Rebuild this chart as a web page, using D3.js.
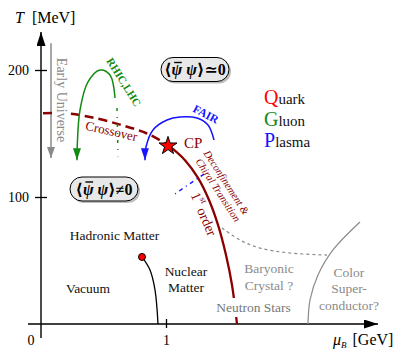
<!DOCTYPE html>
<html>
<head>
<meta charset="utf-8">
<script src="https://cdn.jsdelivr.net/npm/d3@7"></script>
<style>
  body { margin: 0; background: #fff; }
  svg text { font-family: "Liberation Serif", "Times New Roman", "DejaVu Serif", serif; }
</style>
</head>
<body>
<script>
// phase diagram data, (muB in GeV, T in MeV)
var yTicks = [100, 200];
var xTicks = [1];
var crossover = [[0.016, 166], [0.192, 166], [0.392, 163], [0.632, 157], [0.848, 150], [1.016, 141]];
var firstOrder = [[1.016, 141], [1.152, 129], [1.256, 115], [1.344, 97.6], [1.416, 78], [1.48, 54.3], [1.528, 30.7], [1.568, 0]];
var criticalPoint = [1.016, 141];
var nuclear = [[0.808, 52.8], [0.872, 42.5], [0.912, 26.8], [0.936, 0]];
var colorSC = [[2.136, 0], [2.152, 18.9], [2.216, 38.6], [2.336, 58.3], [2.552, 80.3]];
var crystalLine = [[1.448, 75.6], [1.592, 66.1], [1.752, 59.8], [1.992, 55.9], [2.288, 54.3]];
var rhicArc = [[0.288, 129], [0.29, 140], [0.312, 168.5], [0.376, 190.6], [0.472, 200], [0.552, 196], [0.592, 178]];
var rhicReturn = [[0.608, 170], [0.616, 132]];
var fairArc = [[0.832, 129], [0.84, 139.4], [0.896, 152.8], [1.008, 160.6], [1.112, 163], [1.248, 162.2], [1.336, 156.7], [1.384, 144.9]];
var fairReturn = [[1.304, 118.1], [1.048, 100.8]];
var earlyUniverse = [[0.08, 221], [0.08, 130.7]];

var svgWidth = 403;
var svgHeight = 350;
var darkRed = "#8b0000";
var green = "#138a13";
var blue = "#1414ff";
var gray = "#8a8a8a";

var svg = d3.select("body").append("svg")
  .attr("width", svgWidth)
  .attr("height", svgHeight);

var x = d3.scaleLinear().domain([0, 1]).range([41, 166]);
var y = d3.scaleLinear().domain([0, 100]).range([324, 197]);

var line = d3.line()
  .x(d => x(d[0]))
  .y(d => y(d[1]))
  .curve(d3.curveCatmullRom);

// arrow markers
var defs = svg.append("defs");
function marker(id, color, len, wid) {
  defs.append("marker")
    .attr("id", id)
    .attr("markerUnits", "userSpaceOnUse")
    .attr("markerWidth", len)
    .attr("markerHeight", wid)
    .attr("refX", len)
    .attr("refY", wid / 2)
    .attr("orient", "auto-start-reverse")
    .append("path")
    .attr("d", `M0,0 L${len},${wid / 2} L0,${wid} z`)
    .attr("fill", color);
}
marker("arrGreen", green, 12, 8);
marker("arrBlue", blue, 12, 8);
marker("arrGray", gray, 11, 8);
marker("arrBlack", "#000", 14, 9);

// axes
svg.append("line")
  .attr("x1", x(0)).attr("x2", x(0))
  .attr("y1", y(-11)).attr("y2", y(230))
  .attr("stroke", "#000").attr("stroke-width", 1.4)
  .attr("marker-end", "url(#arrBlack)");
svg.append("line")
  .attr("x1", x(-0.104)).attr("x2", x(2.696))
  .attr("y1", y(0)).attr("y2", y(0))
  .attr("stroke", "#000").attr("stroke-width", 1.4)
  .attr("marker-end", "url(#arrBlack)");

var yAxis = svg.append("g")
  .attr("transform", `translate(${x(0)},0)`)
  .call(d3.axisLeft(y).tickValues(yTicks).tickSize(6).tickPadding(6));
yAxis.select(".domain").remove();
yAxis.selectAll(".tick line").attr("x1", -6).attr("x2", 6).attr("stroke-width", 1.3);
yAxis.selectAll(".tick text").attr("font-size", 14).attr("fill", "#000")
  .style("font-family", "'Liberation Serif', serif");

var xAxis = svg.append("g")
  .attr("transform", `translate(0,${y(0)})`)
  .call(d3.axisBottom(x).tickValues(xTicks).tickFormat(d3.format("d")).tickSize(4).tickPadding(7));
xAxis.select(".domain").remove();
xAxis.selectAll(".tick line").attr("y1", -5).attr("stroke-width", 1.3);
xAxis.selectAll(".tick text").attr("font-size", 14).attr("fill", "#000")
  .style("font-family", "'Liberation Serif', serif");

svg.append("text").attr("x", 31).attr("y", 345).attr("text-anchor", "middle")
  .attr("font-size", 14).text("0");

// axis titles
var tTitle = svg.append("text").attr("x", 15).attr("y", 23).attr("font-size", 16);
tTitle.append("tspan").attr("font-style", "italic").text("T");
tTitle.append("tspan").attr("dx", 8).text("[MeV]");

var muTitle = svg.append("text").attr("x", 333).attr("y", 345).attr("font-size", 16);
muTitle.append("tspan").attr("font-style", "italic").text("μ");
muTitle.append("tspan").attr("font-style", "italic").attr("font-size", 9).attr("dy", 3).text("B");
muTitle.append("tspan").attr("dx", 6).attr("dy", -3).text("[GeV]");

// early universe arrow
svg.append("path").attr("d", line(earlyUniverse))
  .attr("fill", "none").attr("stroke", gray).attr("stroke-width", 1.5)
  .attr("marker-end", "url(#arrGray)");

// nuclear liquid-gas line
svg.append("path").attr("d", line(nuclear))
  .attr("fill", "none").attr("stroke", "#000").attr("stroke-width", 1.3);
svg.append("circle")
  .attr("cx", x(nuclear[0][0])).attr("cy", y(nuclear[0][1])).attr("r", 3.5)
  .attr("fill", "#f00").attr("stroke", "#000").attr("stroke-width", 1);

// color superconductor boundary and crystal line
svg.append("path").attr("d", line(colorSC))
  .attr("fill", "none").attr("stroke", gray).attr("stroke-width", 1.2);
svg.append("path").attr("d", line(crystalLine))
  .attr("fill", "none").attr("stroke", gray).attr("stroke-width", 1.2)
  .attr("stroke-dasharray", "3,3");

// crossover + first order
svg.append("path").attr("d", line(crossover))
  .attr("fill", "none").attr("stroke", darkRed).attr("stroke-width", 2.5)
  .attr("stroke-dasharray", "9,5");
svg.append("path").attr("d", line(firstOrder))
  .attr("fill", "none").attr("stroke", darkRed).attr("stroke-width", 2.3);

// white gap behind the early universe text
svg.append("rect").attr("x", 56).attr("y", 104).attr("width", 11).attr("height", 16).attr("fill", "#fff");
svg.append("text")
  .attr("transform", "translate(61.5,100) rotate(90)")
  .attr("text-anchor", "middle").attr("dominant-baseline", "central")
  .attr("font-size", 14).attr("fill", gray).text("Early Universe");

// RHIC/LHC and FAIR trajectories
svg.append("path").attr("d", line(rhicArc))
  .attr("fill", "none").attr("stroke", green).attr("stroke-width", 1.5)
  .attr("marker-start", "url(#arrGreen)");
svg.append("path").attr("d", line(rhicReturn))
  .attr("fill", "none").attr("stroke", green).attr("stroke-width", 1.5)
  .attr("stroke-dasharray", "3,6,1,6");
svg.append("path").attr("d", line(fairArc))
  .attr("fill", "none").attr("stroke", blue).attr("stroke-width", 1.5)
  .attr("marker-start", "url(#arrBlue)");
svg.append("path").attr("d", line(fairReturn))
  .attr("fill", "none").attr("stroke", blue).attr("stroke-width", 1.5)
  .attr("stroke-dasharray", "4,4,1,4");

// critical point
svg.append("path")
  .attr("d", d3.symbol(d3.symbolStar).size(101)())
  .attr("transform", `translate(${x(criticalPoint[0])},${y(criticalPoint[1]) + 1})`)
  .attr("fill", "#f00").attr("stroke", "#000").attr("stroke-width", 1);
svg.append("text").attr("x", 184).attr("y", 148).attr("font-size", 15)
  .attr("fill", darkRed).text("CP");

// rotated labels
function rotLabel(cx, cy, ang, txt, size, color, extra) {
  var t = svg.append("text")
    .attr("transform", `translate(${cx},${cy}) rotate(${ang})`)
    .attr("text-anchor", "middle").attr("dominant-baseline", "central")
    .attr("font-size", size).attr("fill", color).text(txt);
  if (extra) extra(t);
  return t;
}
rotLabel(124, 82, 58, "RHIC,LHC", 11, green, t => t.attr("font-weight", "bold"));
rotLabel(111.5, 131, 13, "Crossover", 13, darkRed);
rotLabel(206, 114, 28, "FAIR", 11.5, blue, t => t.attr("font-weight", "bold"));
rotLabel(226.5, 182.5, 57, "Deconfinement &", 10.5, darkRed, t => t.attr("font-style", "italic"));
rotLabel(218, 190, 57, "Chiral Transition", 10.5, darkRed, t => t.attr("font-style", "italic"));
var fo = svg.append("text")
  .attr("transform", "translate(204,214) rotate(67)")
  .attr("text-anchor", "middle").attr("dominant-baseline", "central")
  .attr("font-size", 14).attr("fill", darkRed);
fo.append("tspan").text("1");
fo.append("tspan").attr("font-size", 9).attr("dy", -5).text("st");
fo.append("tspan").attr("dy", 5).text(" order");

// condensate pills
function pill(cx, cy, sym) {
  var w = 68, h = 24;
  svg.append("rect").attr("x", cx - w / 2 + 2).attr("y", cy - h / 2 + 2)
    .attr("width", w).attr("height", h).attr("rx", h / 2)
    .attr("fill", "#bdbdbd");
  svg.append("rect").attr("x", cx - w / 2).attr("y", cy - h / 2)
    .attr("width", w).attr("height", h).attr("rx", h / 2)
    .attr("fill", "#e8e8e8").attr("stroke", "#000").attr("stroke-width", 1);
  var t = svg.append("text").attr("x", cx).attr("y", cy + 5.5)
    .attr("text-anchor", "middle").attr("font-size", 16).attr("font-weight", "bold");
  t.append("tspan").text("⟨");
  t.append("tspan").attr("font-style", "italic").text("ψ ψ");
  t.append("tspan").text("⟩" + sym + "0");
  // bar over the first psi
  var ext = t.node().getExtentOfChar(1);
  svg.append("line")
    .attr("x1", ext.x + 2.5).attr("x2", ext.x + ext.width - 0.5)
    .attr("y1", cy - 7).attr("y2", cy - 7)
    .attr("stroke", "#000").attr("stroke-width", 1.4);
}
pill(195, 69.5, "≃");
pill(104, 189, "≠");

// QGP legend
var qgp = [["Q", "uark", "#f00"], ["G", "luon", green], ["P", "lasma", blue]];
qgp.forEach(function(d, i) {
  var t = svg.append("text").attr("x", 264).attr("y", 104 + i * 21.5).attr("font-size", 15);
  t.append("tspan").attr("font-size", 20).attr("fill", d[2]).text(d[0]);
  t.append("tspan").attr("fill", "#111").text(d[1]);
});

// region labels
function label(cx, ys, lines, color) {
  lines.forEach(function(s, i) {
    svg.append("text").attr("x", cx).attr("y", ys[i])
      .attr("text-anchor", "middle").attr("font-size", 13.5)
      .attr("fill", color).text(s);
  });
}
label(114.5, [240], ["Hadronic Matter"], "#111");
label(88, [293], ["Vacuum"], "#111");
label(186, [276, 292], ["Nuclear", "Matter"], "#111");
label(269, [273, 290], ["Baryonic", "Crystal ?"], gray);
label(349, [277, 293, 310], ["Color", "Super-", "conductor?"], gray);

svg.append("rect").attr("x", 213).attr("y", 298).attr("width", 81).attr("height", 19).attr("fill", "#fff");
label(253.5, [312], ["Neutron Stars"], "#777");
</script>
</body>
</html>
